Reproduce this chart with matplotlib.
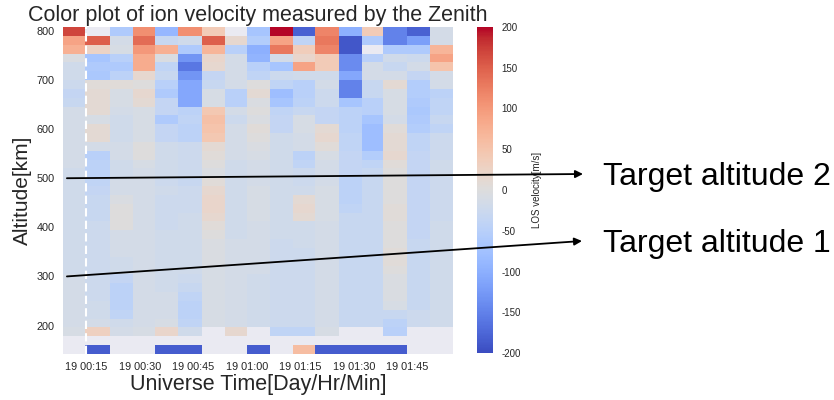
import numpy as np
import pandas as pd
import matplotlib
matplotlib.use("Agg")
import matplotlib.pyplot as plt
import matplotlib.dates as mdates
from matplotlib.patches import ConnectionPatch

plt.rcParams['font.family'] = ['Liberation Sans', 'DejaVu Sans']
plt.rcParams['axes.unicode_minus'] = False

# ---- data ----
day = "2015-03-19"
time_edges = ["00:08:26", "00:14:31", "00:21:30", "00:28:06", "00:34:12", "00:40:42",
              "00:47:18", "00:53:48", "00:59:54", "01:06:30", "01:12:54", "01:19:06",
              "01:25:42", "01:32:12", "01:38:18", "01:44:54", "01:51:24", "01:57:48"]
alt_edges = [808, 790, 772, 754, 736, 718, 700, 682, 664, 646, 628, 610, 592, 574, 556,
             538, 520, 502, 484, 466, 448, 430, 412, 394, 376, 358, 340, 322, 304, 286,
             268, 250, 232, 214, 196, 178, 160, 142]
nan = np.nan
velocity = [
    [170, nan, -60, 110, -90, 110, 40, nan, -70, 200, -180, 120, -100, 40, -150, -180, -15],
    [90, 150, -15, 140, -30, -20, 150, 15, -55, 90, -40, 130, -190, -60, -150, -120, -15],
    [75, 25, -10, 100, 75, -60, 70, -50, -100, 130, 35, 120, -190, nan, -60, -60, 70],
    [-5, -70, -50, 80, -5, -130, 20, -15, -95, -15, 20, 40, -140, -50, -20, -25, 90],
    [-20, -60, -60, 80, -40, -160, 15, -15, -50, -70, 90, 40, -140, -15, -30, -15, 50],
    [-20, -65, -45, 15, -30, -130, -35, -15, -40, -25, -20, -20, -110, -15, -15, -35, -15],
    [-25, 5, 5, 0, -50, -110, -30, -15, 0, -40, -50, -15, -150, -30, 10, -55, -15],
    [-35, 10, -10, 15, -60, -110, -10, -50, 10, -80, -50, -25, -150, -30, -10, -55, -45],
    [-30, 10, -10, 10, -35, -110, -10, -50, -5, -70, -45, -25, -70, -50, -10, -60, -40],
    [-15, 10, -15, -10, -35, -45, 45, -15, 0, -40, -30, -35, -45, -50, -10, -65, -40],
    [-15, -10, -20, -10, -60, -40, 55, -25, -5, -35, -10, -35, -45, -70, -15, -60, -30],
    [-15, 10, -20, -10, -35, -45, 50, -15, 5, -35, -10, 10, -45, -80, 5, -55, -40],
    [-15, 10, -20, -10, -35, -45, 45, -15, 0, -20, -15, 15, -40, -80, 10, -40, -25],
    [-15, -15, -15, 0, -20, -25, 10, -15, -5, -20, -15, 5, -40, -80, 10, -40, -25],
    [-15, -50, -15, 0, -20, -25, 5, -15, -10, -20, -45, -10, -35, -55, 15, -35, -25],
    [-15, -45, -20, -10, -20, -25, 0, -20, -15, -20, -40, -15, -35, -40, 5, -35, -20],
    [-20, -45, -20, -15, -20, -25, -5, -20, -15, -20, -25, -15, -35, -30, 0, -35, -20],
    [-20, -40, -15, -15, -25, -30, 5, -20, -15, -20, -25, -15, -45, -30, 0, -35, -25],
    [-20, -35, -15, -15, -20, -25, 15, -20, -10, -20, -20, -10, -45, -30, 0, -35, -25],
    [-20, -30, -5, -15, -25, -25, 20, -20, -10, -20, 10, -10, -45, -30, 0, -35, -25],
    [-20, -30, 0, -15, -25, -25, 20, -20, -10, -20, 15, -10, -40, -30, 5, -35, -25],
    [-20, -30, 0, -15, -25, -20, 15, -20, -10, -20, 10, -10, -30, -30, 5, -35, -25],
    [-20, -25, 0, -15, -25, -20, 5, -20, -15, -20, -20, -15, -30, -30, 0, -35, -20],
    [-20, -25, -15, -15, -20, -20, 0, -20, -15, -20, -20, -15, -30, -30, 0, -35, -20],
    [-20, -25, -15, -15, -20, -20, -5, -15, -15, -25, -20, -15, -30, -30, 0, -30, -20],
    [-20, -25, -15, -15, -20, -20, -5, -15, -15, -25, -25, -15, -30, -30, 5, -30, -20],
    [-20, -25, -20, -15, -20, -20, -5, -15, -15, -25, -25, -15, -30, -30, 5, -30, -20],
    [-20, -25, -20, -15, -20, -20, -10, -15, -15, -25, -25, -15, -30, -30, 0, -30, -20],
    [-15, -25, -35, -15, -20, -25, -10, -15, -20, -25, -25, -15, -30, -30, -5, -30, -20],
    [-15, -25, -45, -15, -20, -30, -10, -15, -20, -25, -25, -15, -30, -30, -5, -30, -20],
    [-15, -25, -45, -15, -15, -40, -10, -15, -20, -25, -25, -15, -30, -30, -5, -30, -20],
    [-15, -20, -45, -15, -15, -45, -10, -15, -20, -25, -25, -15, -30, -30, -10, -30, -20],
    [-15, -20, -40, -15, -15, -45, -10, -15, -20, -25, -25, -15, -30, -30, -30, -25, -20],
    [-15, -15, -20, -15, -10, -40, -10, -15, -20, -25, -25, -15, -30, -30, -45, -25, -20],
    [-10, 30, -15, -10, 20, -20, nan, 15, nan, -40, -40, -10, nan, nan, -50, nan, nan],
    [nan, nan, nan, nan, nan, nan, nan, nan, nan, nan, nan, nan, nan, nan, nan, nan, nan],
    [nan, -185, nan, nan, -185, -185, nan, nan, -185, nan, 60, -185, -185, -185, -185, nan, nan],
]
marker_time = "00:15:00"
tick_times = ["00:15", "00:30", "00:45", "01:00", "01:15", "01:30", "01:45"]
alt_ticks = [200, 300, 400, 500, 600, 700, 800]
cbar_ticks = [-200, -150, -100, -50, 0, 50, 100, 150, 200]
targets = [("Target altitude 2", 500), ("Target altitude 1", 300)]

# ---- figure ----
W, H = 834, 400
fig = plt.figure(figsize=(W / 100, H / 100), dpi=100)
ax = fig.add_axes([63 / W, 1 - 354 / H, 390 / W, 327 / H])
ax.set_facecolor('#EAEAF2')
for s in ax.spines.values():
    s.set_visible(False)

xe = mdates.date2num(pd.to_datetime([f"{day} {t}" for t in time_edges]))
Z = np.ma.masked_invalid(np.array(velocity, dtype=float))
mesh = ax.pcolormesh(xe, np.array(alt_edges, dtype=float), Z, cmap='coolwarm',
                     vmin=-200, vmax=200, shading='flat')

ax.axvline(mdates.date2num(pd.Timestamp(f"{day} {marker_time}")), color='white',
           linestyle='--', linewidth=1.5, dashes=(4, 2))

ax.set_xlim(xe[0], xe[-1])
ax.set_ylim(alt_edges[-1], alt_edges[0])
ax.set_xticks(mdates.date2num(pd.to_datetime([f"{day} {t}" for t in tick_times])))
ax.xaxis.set_major_formatter(mdates.DateFormatter('%d %H:%M'))
ax.set_yticks(alt_ticks)
ax.tick_params(length=0, labelsize=7.8, colors='.15', pad=6)
ax.grid(False)

ax.set_title("Color plot of ion velocity measured by the Zenith", fontsize=15.5,
             color='.15', pad=4)
ax.set_xlabel("Universe Time[Day/Hr/Min]", fontsize=15.5, color='.15', labelpad=1)
ax.set_ylabel("Altitude[km]", fontsize=15, color='.15', labelpad=3)

cax = fig.add_axes([477 / W, 1 - 353 / H, 16 / W, 326 / H])
cb = fig.colorbar(mesh, cax=cax, ticks=cbar_ticks)
cb.outline.set_visible(False)
cax.tick_params(length=0, labelsize=7, colors='.15', pad=6)
cb.set_label("LOS velocity[m/s]", fontsize=7, color='.15', labelpad=8)

heads = [(583, 174), (582, 241)]
text_y = [177, 244]
for (label, alt), (hx, hy), ty in zip(targets, heads, text_y):
    cp = ConnectionPatch(xyA=(0.01, alt), coordsA=ax.get_yaxis_transform(),
                         xyB=(hx / W, 1 - hy / H), coordsB='figure fraction',
                         arrowstyle='-|>', mutation_scale=11, color='black',
                         linewidth=1.3, shrinkA=0, shrinkB=0)
    fig.add_artist(cp)
    fig.text(603 / W, 1 - ty / H, label, fontsize=23, color='black',
             va='center', ha='left')

fig.savefig("out.png", dpi=100)
